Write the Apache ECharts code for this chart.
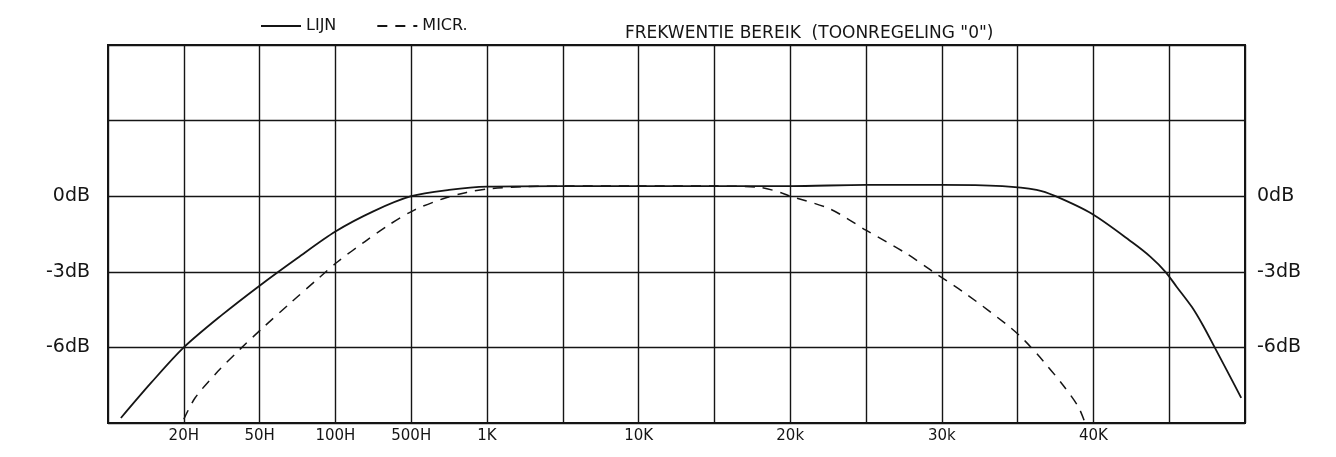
<!DOCTYPE html>
<html>
<head>
<meta charset="utf-8">
<script src="https://cdn.jsdelivr.net/npm/echarts@6/dist/echarts.min.js"></script>
<style>
  html, body { margin: 0; padding: 0; background: #fff; }
  #chart { width: 1336px; height: 457px; }
</style>
</head>
<body>
<div id="chart"></div>
<script>
// x positie = index van de rasterlijn (0 = linker rand, 15 = rechter rand)
const xTickLabels = ['', '20H', '50H', '100H', '500H', '1K', '', '10K', '', '20k', '', '30k', '', '40K', '', '']
const yTickLabels = { '0': '0dB', '-3': '-3dB', '-6': '-6dB' }

// LIJN (doorgetrokken)
const lijnX = [0.17, 0.57, 1.0, 1.5, 2.0, 2.5, 3.0, 3.5, 4.0, 4.5, 5.0, 6, 7, 8, 9, 10, 11, 11.8, 12.25, 12.5, 12.98, 13.52, 13.75, 13.95, 14.1, 14.3, 14.45, 14.6, 14.75, 14.95]
const lijnDb = [-8.8, -7.4, -6.0, -4.72, -3.55, -2.45, -1.4, -0.6, 0.0, 0.25, 0.38, 0.4, 0.4, 0.4, 0.4, 0.45, 0.45, 0.4, 0.25, 0, -0.7, -1.85, -2.4, -3.0, -3.6, -4.4, -5.15, -6.0, -6.85, -8.0]

// MICR. (gestreept)
const micrX = [1.0, 1.15, 1.45, 1.75, 2.05, 2.42, 2.78, 3.03, 3.39, 3.7, 4.04, 4.42, 4.73, 5.04, 5.5, 6, 7, 8, 8.6, 8.89, 9.0, 9.52, 10.0, 10.53, 10.88, 11.33, 11.9, 12.1, 12.34, 12.6, 12.8, 12.89]
const micrDb = [-8.85, -8.0, -6.95, -6.05, -5.2, -4.2, -3.25, -2.6, -1.8, -1.15, -0.55, -0.1, 0.15, 0.3, 0.38, 0.4, 0.4, 0.4, 0.35, 0.13, 0, -0.5, -1.35, -2.27, -2.99, -3.9, -5.2, -5.75, -6.55, -7.5, -8.35, -9.0]

const ink = '#151515'
const font = 'DejaVu Sans'

const chart = echarts.init(document.getElementById('chart'))

const yAxisBase = {
  type: 'value',
  min: -9,
  max: 6,
  interval: 3,
  axisLine: { show: false },
  axisTick: { show: false },
  splitLine: { show: true, lineStyle: { color: ink, width: 1.4 } },
  axisLabel: {
    color: ink,
    fontFamily: font,
    fontSize: 19,
    formatter: (v) => yTickLabels[String(v)] || ''
  }
}

chart.setOption({
  backgroundColor: '#fff',
  animation: false,
  title: {
    text: 'FREKWENTIE BEREIK  (TOONREGELING "0")',
    left: 620,
    top: 20,
    textStyle: { color: ink, fontFamily: font, fontSize: 17, fontWeight: 'normal' }
  },
  legend: {
    data: ['LIJN', 'MICR.'],
    left: 255,
    top: 13,
    itemWidth: 40,
    itemHeight: 10,
    itemGap: 40,
    itemStyle: { color: 'transparent', borderWidth: 0 },
    textStyle: { color: ink, fontFamily: font, fontSize: 16 }
  },
  grid: {
    left: 108,
    right: 91,
    top: 45,
    bottom: 34,
    show: true,
    borderColor: ink,
    borderWidth: 2
  },
  xAxis: {
    type: 'value',
    min: 0,
    max: 15,
    interval: 1,
    axisLine: { show: false },
    axisTick: { show: false },
    splitLine: { show: true, lineStyle: { color: ink, width: 1.4 } },
    axisLabel: {
      color: ink,
      fontFamily: font,
      fontSize: 15,
      margin: 6,
      formatter: (v) => xTickLabels[v] || ''
    }
  },
  yAxis: [
    Object.assign({}, yAxisBase, { position: 'left', axisLabel: Object.assign({}, yAxisBase.axisLabel, { margin: 18 }) }),
    Object.assign({}, yAxisBase, { position: 'right', splitLine: { show: false }, axisLabel: Object.assign({}, yAxisBase.axisLabel, { margin: 12 }) })
  ],
  series: [
    {
      name: 'LIJN',
      type: 'line',
      smooth: 0.3,
      symbol: 'none',
      data: lijnX.map((x, i) => [x, lijnDb[i]]),
      lineStyle: { color: ink, width: 1.8 },
      itemStyle: { color: ink }
    },
    {
      name: 'MICR.',
      type: 'line',
      smooth: 0.3,
      symbol: 'none',
      data: micrX.map((x, i) => [x, micrDb[i]]),
      lineStyle: { color: ink, width: 1.5, type: [10, 8] },
      itemStyle: { color: ink }
    }
  ]
})
</script>
</body>
</html>
